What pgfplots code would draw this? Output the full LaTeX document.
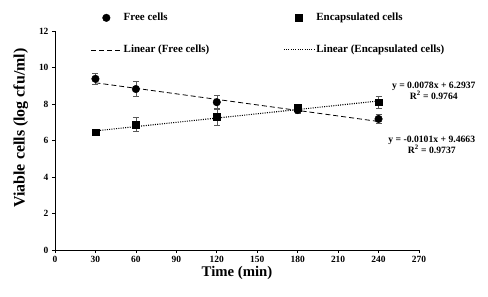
\documentclass[border=0pt]{standalone}
\usepackage{pgfplots}
\pgfplotsset{compat=1.18}
\usepackage{fontspec}
\setmainfont{Liberation Serif}
\begin{document}
\begin{tikzpicture}
\useasboundingbox (-55bp,-47bp) rectangle (433bp,250bp);
\begin{axis}[
  scale only axis, width=364bp, height=219bp,
  at={(0,0)}, anchor=south west,
  xmin=0, xmax=270, ymin=0, ymax=12,
  xtick={0,30,...,270}, ytick={0,2,...,12},
  axis x line*=bottom, axis y line*=left,
  axis line style={black, line width=0.8pt, -},
  tick align=outside, major tick length=3bp,
  tick style={black, line width=0.6pt},
  /pgf/number format/assume math mode=true,
  ticklabel style={font=\bfseries\fontsize{9.5}{10}\selectfont},
  xlabel={Time (min)}, ylabel={Viable cells (log cfu/ml)},
  xlabel style={font=\bfseries\fontsize{14.8}{16}\selectfont, yshift=3bp},
  ylabel style={font=\bfseries\fontsize{16}{17}\selectfont, at={(ticklabel cs:0.557)}, yshift=4bp},
  clip=false,
  legend columns=2,
  legend cell align=left,
  legend style={draw=none, fill=none, at={(0.09,1.10)}, anchor=north west,
    font=\bfseries\fontsize{11}{12}\selectfont,
    /tikz/every even column/.append style={column sep=72bp},
    row sep=19bp},
  legend image code/.code={\draw[mark repeat=2, mark phase=2, #1] plot coordinates {(0bp,0bp) (15bp,0bp) (30bp,0bp)};},
]
\addplot[only marks, mark=*, mark size=3.8bp, black,
  error bars/.cd, y dir=both, y explicit,
  error bar style={gray!70!black, line width=0.5pt},
  error mark options={rotate=90, mark size=3bp, gray!70!black, line width=0.5pt}]
  coordinates {(30,9.38) +- (0,0.3) (60,8.82) +- (0,0.4) (120,8.1) +- (0,0.4) (180,7.67) +- (0,0.2) (240,7.18) +- (0,0.25)};
\addlegendentry{Free cells}
\addplot[only marks, mark=square*, mark size=3.3bp, black,
  error bars/.cd, y dir=both, y explicit,
  error bar style={gray!70!black, line width=0.5pt},
  error mark options={rotate=90, mark size=3bp, gray!70!black, line width=0.5pt}]
  coordinates {(30,6.45) +- (0,0.1) (60,6.88) +- (0,0.4) (120,7.3) +- (0,0.45) (180,7.8) +- (0,0.2) (240,8.1) +- (0,0.35)};
\addlegendentry{Encapsulated cells}
\addplot[black, line width=0.8pt, dash pattern=on 5bp off 3bp, no marks]
  coordinates {(30,9.163) (240,7.042)};
\addlegendentry{Linear (Free cells)}
\addplot[black, line width=1.1pt, dash pattern=on 1bp off 1.3bp, no marks]
  coordinates {(30,6.528) (240,8.166)};
\addlegendentry{Linear (Encapsulated cells)}
\node[font=\bfseries\fontsize{9.7}{11}\selectfont, align=center] at (axis cs:281,8.74) {y = 0.0078x + 6.2937\\R\textsuperscript{2} = 0.9764};
\node[font=\bfseries\fontsize{9.7}{11}\selectfont, align=center] at (axis cs:279.5,5.78) {y = -0.0101x + 9.4663\\R\textsuperscript{2} = 0.9737};
\end{axis}
\end{tikzpicture}
\end{document}
